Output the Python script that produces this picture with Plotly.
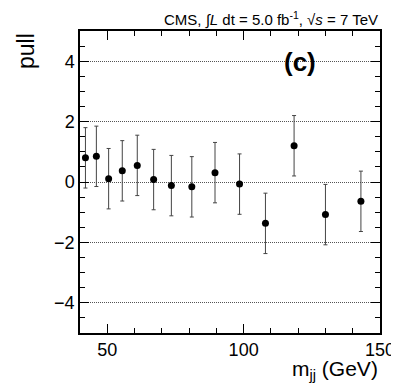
import plotly.graph_objects as go

# bin centres (GeV) and pulls
mjj = [42.0, 46.0, 50.5, 55.5, 61.0, 67.0, 73.5, 81.0, 89.5, 98.5, 108.0, 118.5, 130.0, 143.0]
pull = [0.80, 0.85, 0.11, 0.37, 0.55, 0.08, -0.12, -0.16, 0.31, -0.07, -1.37, 1.20, -1.08, -0.64]
err = [1.0] * len(pull)

font = "Liberation Sans, Arial, sans-serif"

fig = go.Figure()
fig.add_trace(go.Scatter(
    x=mjj, y=pull, mode="markers",
    marker=dict(color="black", size=7),
    error_y=dict(type="data", array=err, color="#444444", thickness=1, width=2),
    showlegend=False,
))

axis_common = dict(
    showline=True, linecolor="black", linewidth=1.5, mirror="allticks",
    ticks="inside", ticklen=9, tickcolor="black", tickwidth=1,
    tickfont=dict(family=font, size=18, color="black"),
    zeroline=False,
)

fig.update_xaxes(
    range=[40, 150], tick0=0, dtick=50, showgrid=False,
    minor=dict(ticks="inside", dtick=10, ticklen=5, tickcolor="black"),
    **axis_common,
)
fig.update_yaxes(
    range=[-5, 5], tick0=0, dtick=2, showgrid=True,
    gridcolor="#555555", griddash="1px,1px", gridwidth=1,
    minor=dict(ticks="inside", dtick=0.5, ticklen=5, tickcolor="black", showgrid=False),
    **axis_common,
)

fig.update_layout(
    width=399, height=383,
    margin=dict(l=72, r=24, t=23, b=58),
    plot_bgcolor="white", paper_bgcolor="white",
    font=dict(family=font, color="black"),
    annotations=[
        dict(text="CMS, ∫<i>L</i> dt = 5.0 fb<sup>-1</sup>, √<i>s</i> = 7 TeV",
             xref="paper", yref="paper", x=1.0, y=1.0, xanchor="right", yanchor="bottom",
             showarrow=False, font=dict(size=15)),
        dict(text="<b>(c)</b>", xref="paper", yref="paper", x=0.733, y=0.897,
             xanchor="center", yanchor="middle", showarrow=False, font=dict(size=26)),
        dict(text="pull", textangle=-90, xref="paper", yref="paper", x=-0.18, y=1.0,
             xanchor="center", yanchor="top", showarrow=False, font=dict(size=23)),
        dict(text="m<sub>jj</sub> (GeV)", xref="paper", yref="paper", x=1.0, y=-0.072,
             xanchor="right", yanchor="top", showarrow=False, font=dict(size=21)),
    ],
)

fig.write_html("out.html")
